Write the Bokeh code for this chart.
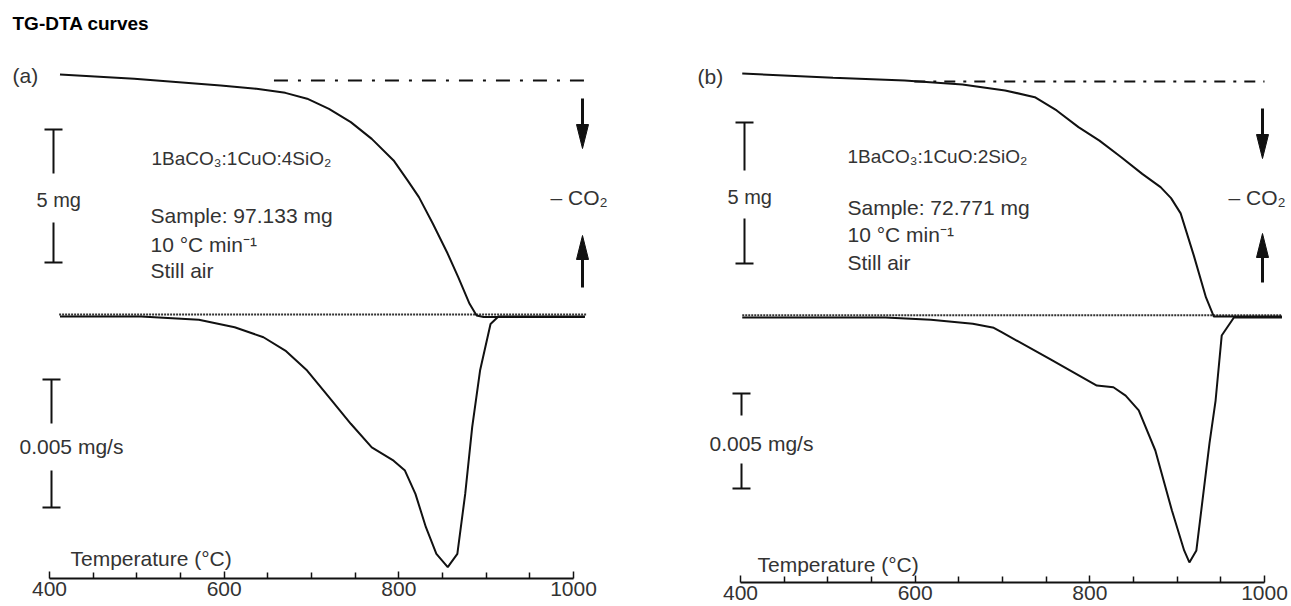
from bokeh.plotting import figure
from bokeh.layouts import row
from bokeh.models import Range1d, FixedTicker, Label
from bokeh.embed import file_html
from bokeh.resources import INLINE

# ---------------- data ----------------
# Panel (a): 1BaCO3:1CuO:4SiO2, sample 97.133 mg
tg_a_temp = [412, 497, 596, 637, 670, 695, 720, 745, 769, 794, 810, 823, 839, 856, 868, 881, 889, 897, 1013]
tg_a_mass = [0.0, -0.16, -0.41, -0.54, -0.69, -0.91, -1.29, -1.79, -2.42, -3.23, -3.98, -4.61, -5.61,
             -6.74, -7.62, -8.62, -9.06, -9.12, -9.12]
dtg_a_temp = [412, 505, 571, 612, 645, 670, 695, 720, 745, 769, 794, 807, 819, 831, 843, 856, 867,
              876, 884, 893, 905, 914, 1013]
dtg_a_rate = [0.0, 0.0, -0.00013, -0.00042, -0.00081, -0.00133, -0.00211, -0.00315, -0.00419, -0.00511,
              -0.00563, -0.00602, -0.00693, -0.00823, -0.00927, -0.00979, -0.00927, -0.00693, -0.00432,
              -0.00211, -0.00029, 0.0, 0.0]

# Panel (b): 1BaCO3:1CuO:2SiO2, sample 72.771 mg
tg_b_temp = [402, 506, 588, 654, 703, 737, 762, 787, 811, 836, 860, 881, 893, 904, 919, 933, 942, 1020]
tg_b_mass = [0.0, -0.15, -0.25, -0.39, -0.60, -0.84, -1.31, -1.90, -2.38, -2.97, -3.56, -4.03, -4.42,
             -4.96, -6.45, -7.94, -8.62, -8.62]
dtg_b_temp = [402, 566, 618, 666, 690, 699, 755, 808, 827, 841, 856, 875, 894, 908, 914, 922, 929,
              937, 944, 951, 965, 1020]
dtg_b_rate = [0.0, 0.0, -0.00012, -0.00033, -0.00054, -0.00077, -0.00221, -0.00358, -0.00367, -0.00411,
              -0.00489, -0.00700, -0.01016, -0.01226, -0.01289, -0.01226, -0.00963, -0.00663, -0.00437,
              -0.00095, 0.0, 0.0]

# reference lines: initial-mass (dash-dot) and zero-rate (dotted) extents, deg C
ref_a_initial = [657, 1017]
ref_a_zero = [411, 1015]
ref_b_initial = [599, 1000]
ref_b_zero = [402, 1019]

major_ticks = [400, 600, 800, 1000]
minor_ticks = [450, 500, 550, 650, 700, 750, 850, 900, 950]

# ---------------- layout / style ----------------
FONT = "Liberation Sans"
TXT = "#333333"
INK = "#111111"
PX_PER_DEG = 524 / 600
TOP = 0          # screen y of frame top
AXIS_SPACE = 24  # reserved below the frame for tick labels
TEXT_SHIFT = -7  # label baseline correction (px)


def make_panel(cfg, tg_t, tg_m, dtg_t, dtg_r, ref_init, ref_zero, texts):
    bottom = cfg["axis_y"]
    X = lambda px: 400 + (px - cfg["x400"]) / PX_PER_DEG
    Y = lambda py: (cfg["tg0"] - py) / cfg["tg_px"]
    D = lambda py: (cfg["dtg0"] - py) / cfg["dtg_px"]
    p = figure(width=cfg["width"], height=bottom + AXIS_SPACE, output_backend="svg",
               toolbar_location=None,
               x_range=Range1d(X(cfg["left"]), X(cfg["left"] + cfg["width"])),
               y_range=Range1d(Y(bottom), Y(TOP)), y_axis_location=None,
               min_border=0, min_border_bottom=AXIS_SPACE, outline_line_color=None,
               background_fill_color="white", border_fill_color="white")
    p.extra_y_ranges = {"dtg": Range1d(D(bottom), D(TOP))}
    p.grid.visible = False

    ax = p.xaxis[0]
    ax.bounds = (400, 1000)
    ax.ticker = FixedTicker(ticks=major_ticks, minor_ticks=minor_ticks)
    ax.major_tick_in = 7
    ax.major_tick_out = 0
    ax.minor_tick_in = 6
    ax.minor_tick_out = 0
    ax.axis_line_width = 2
    ax.axis_line_color = INK
    ax.major_tick_line_width = 1.5
    ax.minor_tick_line_width = 1.5
    ax.major_tick_line_color = INK
    ax.minor_tick_line_color = INK
    ax.major_label_text_font = FONT
    ax.major_label_text_font_size = "21px"
    ax.major_label_text_color = TXT
    ax.major_label_standoff = 3

    # reference lines
    p.line(ref_init, [cfg["init_ref"]] * 2, line_color=INK, line_width=2, line_dash=cfg["dash"])
    p.line(ref_zero, [cfg["zero_ref"]] * 2, y_range_name="dtg", line_color="#333333",
           line_width=2, line_dash="2 1")
    # curves
    p.line(tg_t, tg_m, line_color=INK, line_width=2)
    p.line(dtg_t, dtg_r, y_range_name="dtg", line_color=INK, line_width=2)

    # scale bars (5 mg and 0.005 mg/s)
    for (cx, top, gap1, gap2, span_px) in cfg["bars"]:
        half = 9
        bot = top + span_px
        p.segment(x0=[X(cx), X(cx - half), X(cx), X(cx - half)],
                  y0=[Y(top), Y(top), Y(gap2), Y(bot)],
                  x1=[X(cx), X(cx + half), X(cx), X(cx + half)],
                  y1=[Y(gap1), Y(top), Y(bot), Y(bot)],
                  line_color=INK, line_width=2)

    # arrows (-CO2)
    for (axp, tail, tip) in cfg["arrows"]:
        d = 1 if tip > tail else -1
        base = tip - d * 24
        p.segment(x0=[X(axp)], y0=[Y(tail)], x1=[X(axp)], y1=[Y(base)], line_color=INK, line_width=3)
        p.patch([X(axp - 6), X(axp + 6), X(axp)], [Y(base), Y(base), Y(tip)],
                fill_color=INK, line_color=INK, line_width=1)

    for (txt, px, py, size, color, weight) in texts:
        p.add_layout(Label(x=X(px), y=Y(py + TEXT_SHIFT), text=txt, text_font=FONT,
                           text_font_size=size, text_color=color, text_font_style=weight,
                           text_baseline="alphabetic", text_align="left"))
    return p


cfg_a = dict(left=0, width=668, axis_y=578, x400=49, tg0=74, tg_px=26.6, dtg0=316, dtg_px=25600,
             init_ref=-0.23, zero_ref=0.00008, dash="14 10 3 10",
             bars=[(53, 129, 173, 222, 133), (51, 379, 423, 470, 128)],
             arrows=[(582, 98, 148), (582, 287, 235)])
cfg_b = dict(left=668, width=623, axis_y=582, x400=740, tg0=73, tg_px=28.2, dtg0=317, dtg_px=19000,
             init_ref=-0.28, zero_ref=0.00012, dash="11 8 3 8",
             bars=[(744, 122, 170, 218, 141), (741, 393, 415, 463, 95)],
             arrows=[(1262, 108, 158), (1262, 282, 233)])

N = "normal"
texts_a = [
    ("TG-DTA curves", 12, 30, "19px", "#000000", "bold"),
    ("(a)", 12, 82, "21px", TXT, N),
    ("1BaCO\u2083:1CuO:4SiO\u2082", 151, 165, "19px", TXT, N),
    ("5 mg", 36, 206, "20px", TXT, N),
    ("Sample: 97.133 mg", 150, 222, "21px", TXT, N),
    ("10 \u00b0C min\u207b\u00b9", 150, 251, "21px", TXT, N),
    ("Still air", 150, 277, "21px", TXT, N),
    ("\u2013 CO\u2082", 550, 204, "21px", TXT, N),
    ("0.005 mg/s", 19, 453, "21px", TXT, N),
    ("Temperature (\u00b0C)", 70, 565, "21px", TXT, N),
]
texts_b = [
    ("(b)", 697, 83, "21px", TXT, N),
    ("1BaCO\u2083:1CuO:2SiO\u2082", 847, 163, "19px", TXT, N),
    ("5 mg", 727, 203, "20px", TXT, N),
    ("Sample: 72.771 mg", 847, 214, "21px", TXT, N),
    ("10 \u00b0C min\u207b\u00b9", 847, 241, "21px", TXT, N),
    ("Still air", 847, 269, "21px", TXT, N),
    ("\u2013 CO\u2082", 1228, 204, "21px", TXT, N),
    ("0.005 mg/s", 709, 450, "21px", TXT, N),
    ("Temperature (\u00b0C)", 757, 571, "21px", TXT, N),
]

p1 = make_panel(cfg_a, tg_a_temp, tg_a_mass, dtg_a_temp, dtg_a_rate, ref_a_initial, ref_a_zero, texts_a)
p2 = make_panel(cfg_b, tg_b_temp, tg_b_mass, dtg_b_temp, dtg_b_rate, ref_b_initial, ref_b_zero, texts_b)

layout = row(p1, p2)
open("out.html", "w").write(file_html(layout, INLINE))
